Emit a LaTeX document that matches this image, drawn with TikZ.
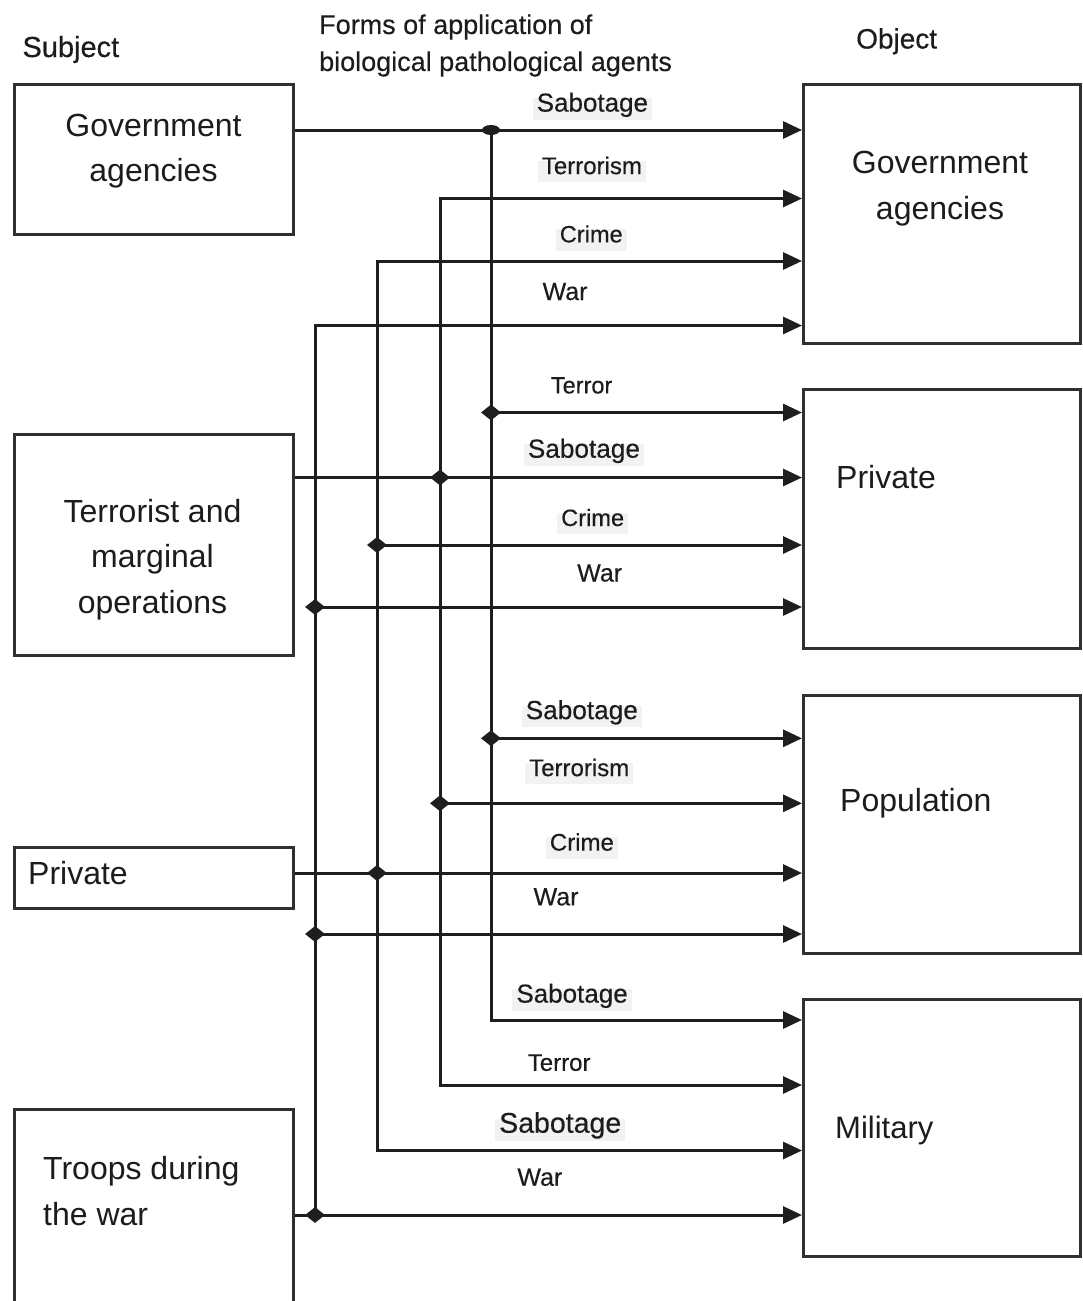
\documentclass[tikz,border=0pt]{standalone}
\usepackage{fontspec}
\setmainfont{Liberation Sans}
\newfontfamily\lblfont[FakeBold=0.35]{Liberation Sans}
\usetikzlibrary{arrows.meta,shapes.geometric}
\definecolor{txt}{HTML}{1C1C1C}
\definecolor{ink}{HTML}{1E1E1E}
\definecolor{frame}{HTML}{303030}
\definecolor{lblbg}{HTML}{F2F2F2}
\newcommand\fsz[1]{\fontsize{#1}{#1}\selectfont}
\begin{document}
\begin{tikzpicture}[x=1pt,y=-1pt,
  box/.style={draw=frame,line width=3pt,inner sep=0pt,fill=white},
  wire/.style={draw=ink,line width=3pt,line join=miter},
  arr/.style={wire,-{Triangle[length=19pt,width=17pt]}},
  arrs/.style={wire,{Triangle[length=19pt,width=17pt]}-},
  arrb/.style={wire,{Triangle[length=19pt,width=17pt]}-{Triangle[length=19pt,width=17pt]}},
  junc/.style={diamond,fill=ink,draw=none,inner sep=0pt,minimum width=20pt,minimum height=16pt},
  junctop/.style={ellipse,fill=ink,draw=none,inner sep=0pt,minimum width=18pt,minimum height=10pt},
  btxt/.style={text=txt,inner sep=0pt},
  lbl/.style={anchor=base west,inner sep=0pt,text=txt},
  lblbg/.style={anchor=base west,text=txt,fill=lblbg,inner xsep=4pt,inner ysep=6pt,text height=0.75em,text depth=0.22em}
]
\useasboundingbox (0,0) rectangle (1082,1301);
\fill[white] (0,0) rectangle (1082,1301);
\clip (0,0) rectangle (1082,1301);

% headers
\node[lbl,font=\lblfont\fsz{29}] (hsubj) at (22.3,57) {Subject};
\node[btxt,anchor=west,align=left,font=\lblfont\fontsize{27}{37}\selectfont] (hforms) at (319,45.5) {Forms of application of\\biological pathological agents};
\node[lbl,font=\lblfont\fsz{28}] (hobj) at (856,48.5) {Object};

% subject boxes
\node[box,minimum width=279.3pt,minimum height=150pt] (lgov) at (153.7,159) {};
\node[box,minimum width=279.3pt,minimum height=221pt] (lterr) at (153.7,544.5) {};
\node[box,minimum width=279.3pt,minimum height=61pt] (lpriv) at (153.7,877.8) {};
\node[box,minimum width=279.3pt,minimum height=211pt] (ltroops) at (153.7,1214.8) {};

% object boxes
\node[box,minimum width=277pt,minimum height=259pt] (rgov) at (942,213.8) {};
\node[box,minimum width=277pt,minimum height=259pt] (rpriv) at (942,518.7) {};
\node[box,minimum width=277pt,minimum height=258pt] (rpop) at (942,824.5) {};
\node[box,minimum width=277pt,minimum height=257.4pt] (rmil) at (942,1128) {};

% box texts
\node[btxt,align=center,font=\fontsize{32}{45}\selectfont] (tlgov) at (153.5,151.6) {Government\\agencies};
\node[btxt,align=center,font=\fontsize{32}{45.5}\selectfont] (tlterr) at (152.5,559.6) {Terrorist and\\marginal\\operations};
\node[lbl,font=\fsz{32}] (tlpriv) at (28,884) {Private};
\node[btxt,anchor=west,align=left,font=\fontsize{32}{46}\selectfont] (tltroops) at (43,1191.3) {Troops during\\the war};
\node[btxt,align=center,font=\fontsize{32}{46}\selectfont] (trgov) at (940,188.7) {Government\\agencies};
\node[lbl,font=\fsz{32}] (trpriv) at (836,488.5) {Private};
\node[lbl,font=\fsz{32}] (trpop) at (840,811.5) {Population};
\node[lbl,font=\fsz{31}] (trmil) at (835,1138) {Military};

% connector labels
\node[lblbg,font=\lblfont\fsz{26}] (l1) at (532.5,111.6) {Sabotage\hspace{12pt}};
\node[lblbg,font=\lblfont\fsz{24}] (l2) at (537.7,174.1) {Terrorism\hspace{12pt}};
\node[lblbg,font=\lblfont\fsz{23.6}] (l3) at (555.6,242.4) {Crime\hspace{20pt}};
\node[lbl,font=\lblfont\fsz{25}] (l4) at (542.4,300) {War};
\node[lbl,font=\lblfont\fsz{23.5}] (l5) at (550.7,393.4) {Terror};
\node[lblbg,font=\lblfont\fsz{26.2}] (l6) at (523.6,457.7) {Sabotage\hspace{12pt}};
\node[lblbg,font=\lblfont\fsz{23.6}] (l7) at (557,526) {Crime\hspace{20pt}};
\node[lbl,font=\lblfont\fsz{25}] (l8) at (577,581.5) {War};
\node[lblbg,font=\lblfont\fsz{26.2}] (l9) at (521.5,719.1) {Sabotage\hspace{12pt}};
\node[lblbg,font=\lblfont\fsz{24}] (l10) at (525,776.1) {Terrorism\hspace{12pt}};
\node[lblbg,font=\lblfont\fsz{24}] (l11) at (545.7,850.6) {Crime\hspace{20pt}};
\node[lbl,font=\lblfont\fsz{25}] (l12) at (533.4,905.3) {War};
\node[lblbg,font=\lblfont\fsz{26}] (l13) at (512.2,1002.6) {Sabotage\hspace{12pt}};
\node[lbl,font=\lblfont\fsz{24}] (l14) at (527.6,1070.8) {Terror};
\node[lblbg,font=\lblfont\fsz{28.5}] (l15) at (495,1132.7) {Sabotage\hspace{12pt}};
\node[lbl,font=\lblfont\fsz{25}] (l16) at (517.2,1185.7) {War};

% junction and corner coordinates
\coordinate (jA0) at (491,130);
\coordinate (jA1) at (491,412.5);
\coordinate (jA2) at (491,738.3);
\coordinate (cA) at (491,1020);
\coordinate (cB0) at (440,198.5);
\coordinate (jB1) at (440,477.5);
\coordinate (jB2) at (440,803.3);
\coordinate (cB) at (440,1085);
\coordinate (cC0) at (377,261);
\coordinate (jC1) at (377,545);
\coordinate (jC2) at (377,873);
\coordinate (cC) at (377,1150.5);
\coordinate (cD0) at (315,325.5);
\coordinate (jD1) at (315,607);
\coordinate (jD2) at (315,934);
\coordinate (jD3) at (315,1215);

% buses
\draw[arr] (jA0) -- (cA) -- (rmil.west |- cA);
\draw[arrb] (rgov.west |- cB0) -- (cB0) -- (cB) -- (rmil.west |- cB);
\draw[arrb] (rgov.west |- cC0) -- (cC0) -- (cC) -- (rmil.west |- cC);
\draw[arrs] (rgov.west |- cD0) -- (cD0) -- (jD3);

% rows from subjects
\draw[arr] (lgov.east |- jA0) -- (rgov.west |- jA0);
\draw[arr] (lterr.east |- jB1) -- (rpriv.west |- jB1);
\draw[arr] (lpriv.east |- jC2) -- (rpop.west |- jC2);
\draw[arr] (ltroops.east |- jD3) -- (rmil.west |- jD3);

% rows from bus junctions
\draw[arr] (jA1) -- (rpriv.west |- jA1);
\draw[arr] (jC1) -- (rpriv.west |- jC1);
\draw[arr] (jD1) -- (rpriv.west |- jD1);
\draw[arr] (jA2) -- (rpop.west |- jA2);
\draw[arr] (jB2) -- (rpop.west |- jB2);
\draw[arr] (jD2) -- (rpop.west |- jD2);

% junction dots
\node[junctop] (dA0) at (jA0) {};
\node[junc] (dA1) at (jA1) {};
\node[junc] (dA2) at (jA2) {};
\node[junc] (dB1) at (jB1) {};
\node[junc] (dB2) at (jB2) {};
\node[junc] (dC1) at (jC1) {};
\node[junc] (dC2) at (jC2) {};
\node[junc] (dD1) at (jD1) {};
\node[junc] (dD2) at (jD2) {};
\node[junc] (dD3) at (jD3) {};
\end{tikzpicture}
\end{document}
